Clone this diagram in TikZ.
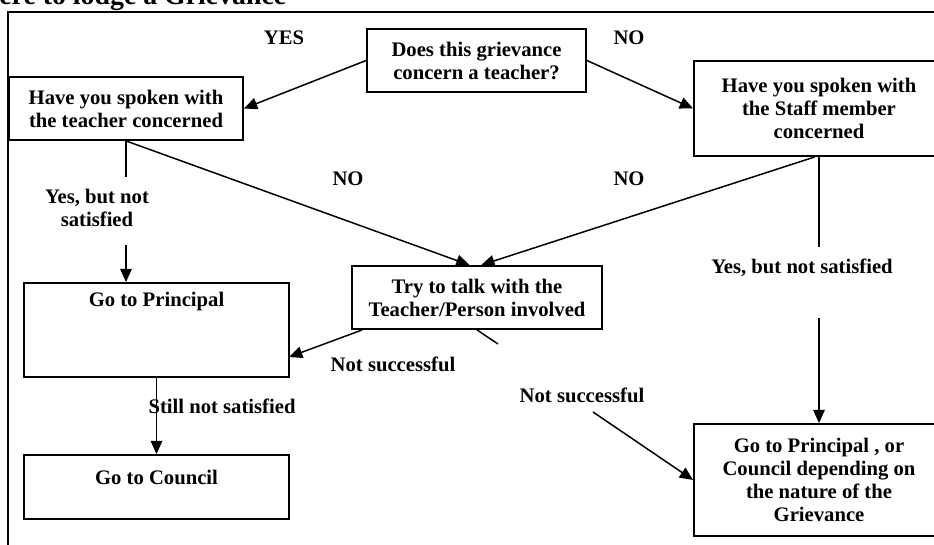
\documentclass[tikz,border=0pt]{standalone}
\usepackage{fontspec}
\setmainfont{Liberation Serif}
\usetikzlibrary{arrows.meta}
\begin{document}
\begin{tikzpicture}[x=0.6pt,y=-0.6pt,
  every node/.style={font=\bfseries\fontsize{12.4}{13.8}\selectfont, inner sep=0pt},
  box/.style={draw, line width=1.1pt, align=center},
  conn/.style={line width=0.9pt},
  arr/.style={conn, -{Triangle[length=8pt,width=7pt]}},
  lbl/.style={align=center},
  frame/.style={line width=1.1pt}]
\clip (0,0) rectangle (934,545);
% title and frame
\node[anchor=base west, font=\bfseries\fontsize{16.7}{20}\selectfont] (title) at (-1,5) {ere to lodge a Grievance};
\draw[frame] (8,546) -- (8,12) -- (935,12);
% boxes
\node[box, minimum width=131.4pt, minimum height=37.8pt] (q) at (476.5,60.5) {Does this grievance\\concern a teacher?};
\node[box, minimum width=140.4pt, minimum height=37.8pt] (teacher) at (126,108.5) {Have you spoken with\\the teacher concerned};
\node[box, minimum width=150pt, minimum height=57pt] (staff) at (819,108.5) {Have you spoken with\\the Staff member\\concerned};
\node[box, minimum width=150pt, minimum height=37.8pt] (try) at (477,297.5) {Try to talk with the\\Teacher/Person involved};
\node[box, minimum width=159pt, minimum height=56.4pt] (prin) at (156.5,330) {};
\node[lbl] (printxt) at (156.5,302) {Go to Principal};
\node[box, minimum width=159pt, minimum height=38.4pt] (council) at (156.5,487) {};
\node[lbl] (counciltxt) at (156.5,477) {Go to Council};
\node[box, minimum width=150pt, minimum height=67.2pt] (final) at (819,480) {Go to Principal , or\\Council depending on\\the nature of the\\Grievance};
% labels
\node[lbl] (yes) at (284,38) {YES};
\node[lbl] (no1) at (629,38) {NO};
\node[lbl] (no2) at (348,179) {NO};
\node[lbl] (no3) at (629,179) {NO};
\node[lbl] (ybns1) at (97,208) {Yes, but not\\satisfied};
\node[lbl] (ybns2) at (802,268) {Yes, but not satisfied};
\node[lbl] (ns1) at (393,364) {Not successful};
\node[lbl] (ns2) at (582,395) {Not successful};
\node[lbl] (sns) at (222,406) {Still not satisfied};
% coordinates
\coordinate (t1) at (126,177);
\coordinate (t2) at (126,245);
\coordinate (s1) at (819,247);
\coordinate (s2) at (819,318);
\coordinate (n1) at (498,344);
\coordinate (n2) at (593,412);
\coordinate (p1) at (289,357);
\coordinate (ts) at (362,330);
% connectors
\draw[arr] (q.west) -- (teacher.east);
\draw[arr] (q.east) -- (staff.west);
\draw[conn] (teacher.south) -- (t1);
\draw[arr] (t2) -- (t2 |- prin.north);
\draw[arr] (teacher.south) -- ([xshift=-4.5pt]try.north);
\draw[arr] ([xshift=-2.5pt]staff.south) -- ([xshift=2.5pt]try.north);
\draw[conn] (staff.south) -- (s1);
\draw[arr] (s2) -- (final.north);
\draw[arr] (ts) -- (p1);
\draw[conn] (try.south) -- (n1);
\draw[arr] (n2) -- (final.west);
\draw[arr] (prin.south) -- (council.north);
\end{tikzpicture}
\end{document}
